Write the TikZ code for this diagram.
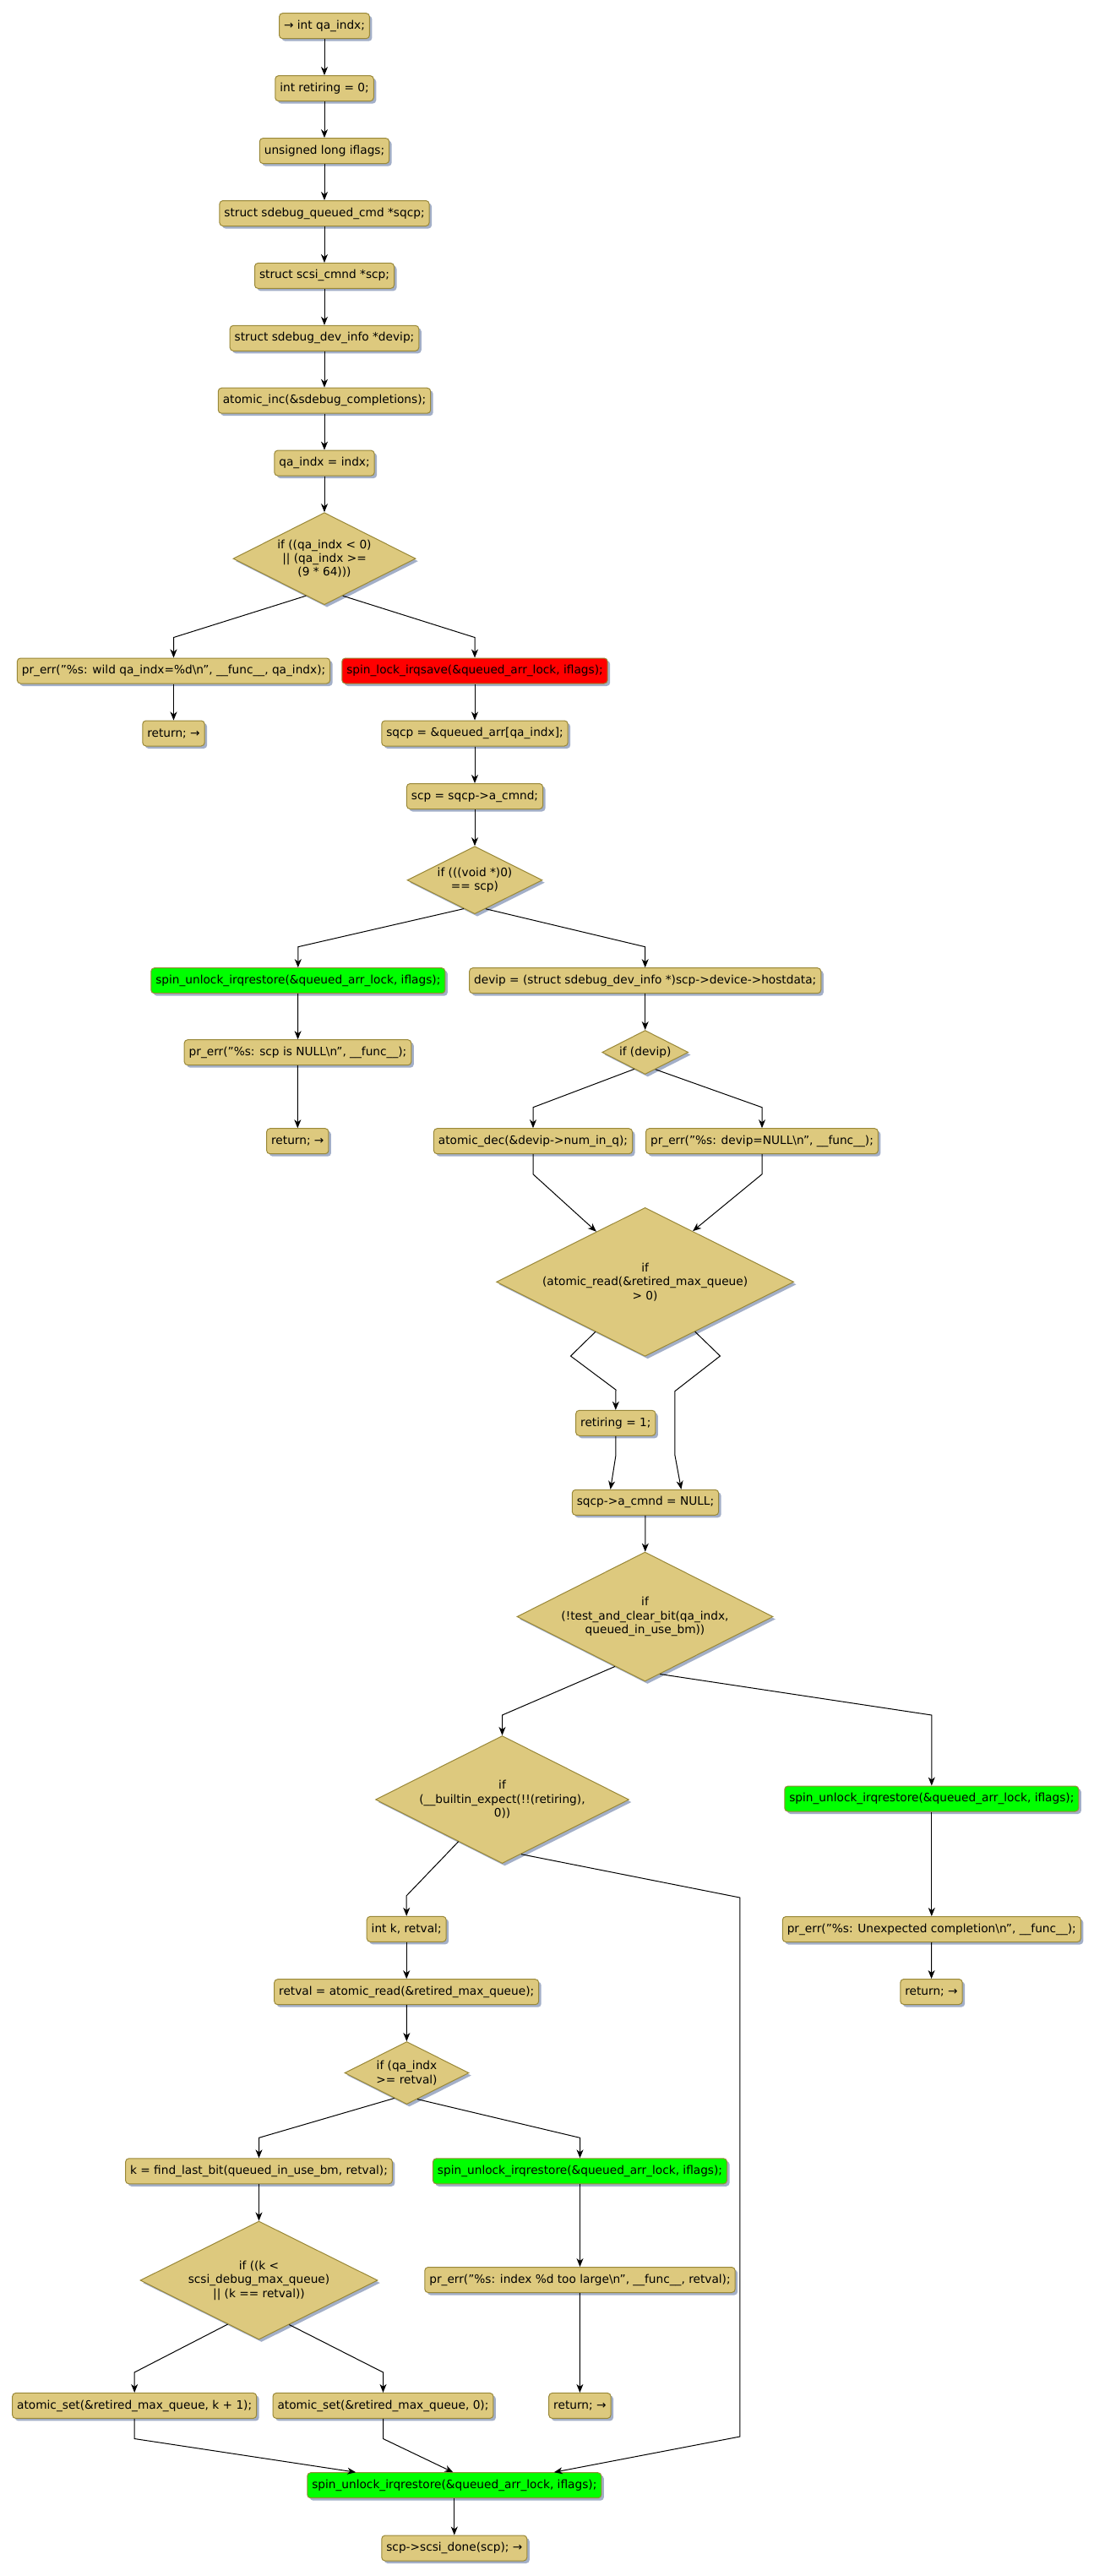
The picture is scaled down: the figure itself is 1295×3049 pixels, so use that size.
\documentclass[tikz,border=0pt]{standalone}
\usepackage{fontspec}
\setmainfont{DejaVu Sans}
\usetikzlibrary{shapes.geometric,arrows.meta,shadows,calc}
\definecolor{boxfill}{RGB}{221,201,126}
\definecolor{boxdraw}{RGB}{153,136,56}
\definecolor{shadowcol}{RGB}{163,175,200}
\definecolor{redfill}{RGB}{255,0,0}
\definecolor{greenfill}{RGB}{0,255,0}
\tikzset{
  stmt/.style={shape=rectangle, rounded corners=4pt, fill=boxfill, draw=boxdraw, line width=1pt,
    minimum height=30pt, inner xsep=5.5pt, inner ysep=0pt,
    font=\fontsize{13.7}{16.4}\selectfont,
    drop shadow={shadow xshift=3pt,shadow yshift=-3pt,fill=shadowcol,opacity=1}},
  redstmt/.style={stmt, fill=redfill},
  greenstmt/.style={stmt, fill=greenfill},
  decision/.style={shape=diamond, aspect=2, fill=boxfill, draw=boxdraw, line width=1pt, inner sep=0pt,
    align=center, font=\fontsize{13.7}{16.4}\selectfont,
    drop shadow={shadow xshift=3pt,shadow yshift=-3pt,fill=shadowcol,opacity=1}},
  arr/.style={-{Stealth[length=10pt,width=8pt,inset=3pt]}, line width=1pt, black}
}
\begin{document}
\begin{tikzpicture}[x=1pt,y=-1pt]
\useasboundingbox (0,0) rectangle (1295,3049);
% main column
\node[stmt] (n1) at (384,30.7) {→ int qa\_indx;};
\node[stmt] (n2) at (384,104.6) {int retiring = 0;};
\node[stmt] (n3) at (384,178.6) {unsigned long iflags;};
\node[stmt] (n4) at (384,252.5) {struct sdebug\_queued\_cmd *sqcp;};
\node[stmt] (n5) at (384,326.4) {struct scsi\_cmnd *scp;};
\node[stmt] (n6) at (384,400.3) {struct sdebug\_dev\_info *devip;};
\node[stmt] (n7) at (384,474.2) {atomic\_inc(\&sdebug\_completions);};
\node[stmt] (n8) at (384,548.1) {qa\_indx = indx;};
\node[decision, minimum width=216pt, minimum height=109pt] (d1) at (384,661.2) {if ((qa\_indx < 0)\\|| (qa\_indx >=\\(9 * 64)))};
\node[stmt] (n9) at (205.5,794) {pr\_err("\%s: wild qa\_indx=\%d\textbackslash n", \_\_func\_\_, qa\_indx);};
\node[redstmt] (n10) at (562,794) {spin\_lock\_irqsave(\&queued\_arr\_lock, iflags);};
\node[stmt] (n11) at (205.5,868) {return; →};
\node[stmt] (n12) at (562,868) {sqcp = \&queued\_arr[qa\_indx];};
\node[stmt] (n13) at (562,942.5) {scp = sqcp->a\_cmnd;};
\node[decision, minimum width=160pt, minimum height=80pt] (d2) at (562,1041.7) {if (((void *)0)\\== scp)};
\node[greenstmt] (n14) at (352.8,1160.7) {spin\_unlock\_irqrestore(\&queued\_arr\_lock, iflags);};
\node[stmt] (n15) at (763.7,1160.7) {devip = (struct sdebug\_dev\_info *)scp->device->hostdata;};
\node[stmt] (n16) at (352.5,1245.7) {pr\_err("\%s: scp is NULL\textbackslash n", \_\_func\_\_);};
\node[decision, minimum width=102pt, minimum height=52pt] (d3) at (763.7,1245.5) {if (devip)};
\node[stmt] (n17) at (352.3,1350.7) {return; →};
\node[stmt] (n18) at (631,1350.7) {atomic\_dec(\&devip->num\_in\_q);};
\node[stmt] (n19) at (902,1350.7) {pr\_err("\%s: devip=NULL\textbackslash n", \_\_func\_\_);};
\node[decision, minimum width=352pt, minimum height=176pt] (d4) at (763.6,1517.3) {if\\(atomic\_read(\&retired\_max\_queue)\\> 0)};
\node[stmt] (n20) at (728.8,1684.3) {retiring = 1;};
\node[stmt] (n21) at (764,1778.3) {sqcp->a\_cmnd = NULL;};
\node[decision, minimum width=303pt, minimum height=153pt] (d5) at (763.5,1913.5) {if\\(!test\_and\_clear\_bit(qa\_indx,\\queued\_in\_use\_bm))};
\node[decision, minimum width=300pt, minimum height=151pt] (d6) at (594.5,2130) {if\\(\_\_builtin\_expect(!!(retiring),\\0))};
\node[greenstmt] (n22) at (1102.8,2129) {spin\_unlock\_irqrestore(\&queued\_arr\_lock, iflags);};
\node[stmt] (n23) at (1102.8,2283.5) {pr\_err("\%s: Unexpected completion\textbackslash n", \_\_func\_\_);};
\node[stmt] (n24) at (1102.5,2357.5) {return; →};
\node[stmt] (n25) at (481.2,2283.3) {int k, retval;};
\node[stmt] (n26) at (481.2,2357.7) {retval = atomic\_read(\&retired\_max\_queue);};
\node[decision, minimum width=147pt, minimum height=74pt] (d7) at (481.5,2453.5) {if (qa\_indx\\>= retval)};
\node[stmt] (n27) at (306.5,2569.8) {k = find\_last\_bit(queued\_in\_use\_bm, retval);};
\node[greenstmt] (n28) at (686.5,2569.8) {spin\_unlock\_irqrestore(\&queued\_arr\_lock, iflags);};
\node[decision, minimum width=281pt, minimum height=140pt] (d8) at (306.5,2699) {if ((k <\\scsi\_debug\_max\_queue)\\|| (k == retval))};
\node[stmt] (n29) at (686.5,2698.5) {pr\_err("\%s: index \%d too large\textbackslash n", \_\_func\_\_, retval);};
\node[stmt] (n30) at (159.2,2847.4) {atomic\_set(\&retired\_max\_queue, k + 1);};
\node[stmt] (n31) at (453.5,2847.4) {atomic\_set(\&retired\_max\_queue, 0);};
\node[stmt] (n32) at (686.4,2847.4) {return; →};
\node[greenstmt] (n33) at (537.8,2941.7) {spin\_unlock\_irqrestore(\&queued\_arr\_lock, iflags);};
\node[stmt] (n34) at (537.8,3016) {scp->scsi\_done(scp); →};

% straight connectors
\draw[arr] (n1) -- (n2);
\draw[arr] (n2) -- (n3);
\draw[arr] (n3) -- (n4);
\draw[arr] (n4) -- (n5);
\draw[arr] (n5) -- (n6);
\draw[arr] (n6) -- (n7);
\draw[arr] (n7) -- (n8);
\draw[arr] (n8) -- (d1);
\draw[arr] (n9) -- (n11);
\draw[arr] (n10) -- (n12);
\draw[arr] (n12) -- (n13);
\draw[arr] (n13) -- (d2);
\draw[arr] (n14) -- (n16);
\draw[arr] (n16) -- (n17);
\draw[arr] (n15) -- (d3);
\draw[arr] (n21) -- (d5);
\draw[arr] (n22) -- (n23);
\draw[arr] (n23) -- (n24);
\draw[arr] (n25) -- (n26);
\draw[arr] (n26) -- (d7);
\draw[arr] (n27) -- (d8);
\draw[arr] (n28) -- (n29);
\draw[arr] (n29) -- (n32);
\draw[arr] (n33) -- (n34);

% decision branches
\draw[arr] ($(d1.south)!0.2!(d1.west)$) -- ($(n9.north)+(0,-24)$) -- (n9.north);
\draw[arr] ($(d1.south)!0.2!(d1.east)$) -- ($(n10.north)+(0,-24)$) -- (n10.north);
\draw[arr] ($(d2.south)!0.1625!(d2.west)$) -- ($(n14.north)+(0,-24.5)$) -- (n14.north);
\draw[arr] ($(d2.south)!0.16!(d2.east)$) -- ($(n15.north)+(0,-24.5)$) -- (n15.north);
\draw[arr] ($(d3.south)!0.25!(d3.west)$) -- ($(n18.north)+(0,-24.5)$) -- (n18.north);
\draw[arr] ($(d3.south)!0.235!(d3.east)$) -- ($(n19.north)+(0,-24.5)$) -- (n19.north);

% into d4
\draw[arr] (n18.south) -- ++(0,23.6) -- ($(d4.north)!0.327!(d4.west)$);
\draw[arr] (n19.south) -- ++(0,23.6) -- ($(d4.north)!0.32!(d4.east)$);

% out of d4
\draw[arr] ($(d4.south)!0.333!(d4.west)$) -- (675.5,1605) -- (729,1645) -- (n20.north);
\draw[arr] ($(d4.south)!0.335!(d4.east)$) -- (852.4,1605) -- (798.8,1646.7) -- (798.8,1721.7) -- ($(n21.north)+(42.4,0)$);
\draw[arr] (n20.south) -- ++(0,23.7) -- ($(n21.north)+(-41.4,0)$);

% out of d5
\draw[arr] ($(d5.south)!0.234!(d5.west)$) -- (594.5,2030) -- (d6.north);
\draw[arr] ($(d5.south)!0.117!(d5.east)$) -- (1102.8,2030) -- (n22.north);

% out of d6
\draw[arr] ($(d6.south)!0.345!(d6.west)$) -- ($(n25.north)+(0,-24)$) -- (n25.north);
\draw[arr] ($(d6.south)!0.149!(d6.east)$) -- (875.8,2246) -- (875.8,2884) -- ($(n33.north)+(118,0)$);

% out of d7
\draw[arr] ($(d7.south)!0.2!(d7.west)$) -- ($(n27.north)+(0,-24)$) -- (n27.north);
\draw[arr] ($(d7.south)!0.17!(d7.east)$) -- ($(n28.north)+(0,-24)$) -- (n28.north);

% out of d8
\draw[arr] ($(d8.south)!0.262!(d8.west)$) -- ($(n30.north)+(0,-24)$) -- (n30.north);
\draw[arr] ($(d8.south)!0.255!(d8.east)$) -- ($(n31.north)+(0,-24)$) -- (n31.north);

% merge into n33
\draw[arr] (n30.south) -- ++(0,23.6) -- ($(n33.north)+(-116.6,0)$);
\draw[arr] (n31.south) -- ++(0,23.6) -- ($(n33.north)+(-1.4,0)$);
\end{tikzpicture}
\end{document}
